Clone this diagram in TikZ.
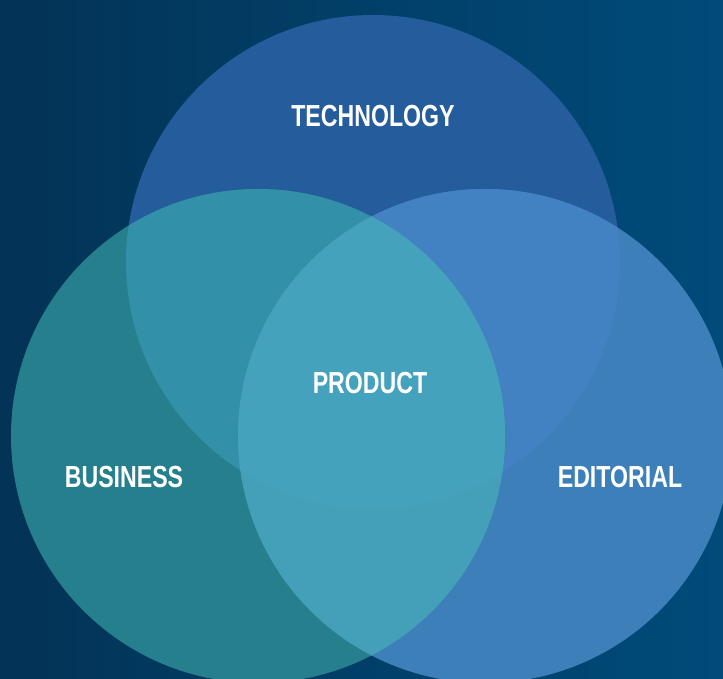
\documentclass[tikz,border=0pt]{standalone}
\usepackage{fontspec}
\setmainfont{Liberation Sans}[FakeStretch=0.76]
\usetikzlibrary{positioning}
\definecolor{bgleft}{HTML}{033356}
\definecolor{bgright}{HTML}{004B7A}
\definecolor{techblue}{HTML}{245C9C}
\definecolor{bizteal}{HTML}{267F8C}
\definecolor{editblue}{HTML}{3D7FB8}
\definecolor{techbiz}{HTML}{3290A8}
\definecolor{techedit}{HTML}{4282C3}
\definecolor{bizedit}{HTML}{44A0B8}
\definecolor{prodcyan}{HTML}{45A2BC}
\tikzset{
	set/.style={circle, minimum size=494*0.03cm, inner sep=0pt},
	setname/.style={text=white, font=\fontsize{26}{30}\selectfont\bfseries},
}

\begin{document}
\begin{tikzpicture}[x=0.03cm, y=-0.03cm]
	\def\r{247}
	% background
	\shade[left color=bgleft, right color=bgright] (0,0) rectangle (723,679);
	\useasboundingbox (0,0) rectangle (723,679);
	\begin{scope}
		\clip (0,0) rectangle (723,679);
		\node(tech)[set, fill=techblue] at (373,262) {};
		\node(biz)[set, fill=bizteal] at (258,436) {};
		\node(edit)[set, fill=editblue] at (485,436) {};
		% overlaps
		\begin{scope}
			\clip (tech.center) circle (\r);
			\fill[techbiz] (biz.center) circle (\r);
			\fill[techedit] (edit.center) circle (\r);
		\end{scope}
		\begin{scope}
			\clip (biz.center) circle (\r);
			\fill[bizedit] (edit.center) circle (\r);
			\clip (edit.center) circle (\r);
			\fill[prodcyan] (tech.center) circle (\r);
		\end{scope}
	\end{scope}
	\node(techname)[setname] at (373,116) {TECHNOLOGY};
	\node(prodname)[setname] at (370,383) {PRODUCT};
	\node(bizname)[setname] at (124,477) {BUSINESS};
	\node(editname)[setname] at (620,477) {EDITORIAL};
\end{tikzpicture}
\end{document}
